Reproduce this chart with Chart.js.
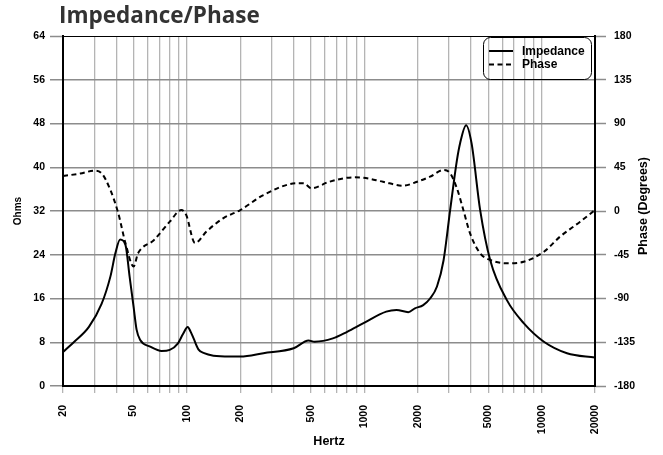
<!DOCTYPE html>
<html>
<head>
<meta charset="utf-8">
<title>Impedance/Phase</title>
<script src="https://cdn.jsdelivr.net/npm/chart.js@4/dist/chart.umd.min.js"></script>
<style>
  body { margin: 0; background: #fff; }
  #wrap { width: 663px; height: 455px; position: relative; }
</style>
</head>
<body>
<div id="wrap"><canvas id="chart"></canvas></div>
<script>
// impedance curve (Hz / ohms)
const IMP_FREQ = [20, 23, 28, 33, 37, 39.5, 42, 45, 47.5, 50, 52, 54.5, 62, 72, 80, 89, 95, 101, 105, 109, 116, 125, 141, 175, 200,
  270, 400, 485, 525, 665, 800, 990, 1330, 1520, 1770, 1930, 2150, 2350, 2570, 2800, 3050, 3330, 3470, 3750, 4026, 4500,
  5130, 6370, 7920, 10300, 13900, 20000];
const IMP_OHMS = [6.2, 8.0, 10.8, 15.0, 20.0, 24.3, 26.8, 25.8, 20.0, 14.5, 10.3, 8.4, 7.2, 6.4, 6.6, 7.8, 9.5, 10.8, 9.9, 8.7, 6.7, 6.0, 5.55, 5.4, 5.4,
  6.0, 6.9, 8.3, 8.1, 8.7, 9.9, 11.5, 13.6, 13.9, 13.5, 14.2, 14.8, 16.0, 18.2, 23.0, 32.2, 41.3, 44.4, 47.7, 44.4, 32.2,
  23.0, 15.7, 11.5, 8.1, 6.0, 5.2];

// phase curve (Hz / degrees)
const PHASE_FREQ = [20, 25, 30, 33, 37, 41, 45, 50, 53, 65, 80, 93, 99, 111, 129, 160, 200, 270, 420, 455, 503, 635, 866, 990,
  1275, 1660, 1985, 2350, 2800, 3050, 3330, 3620, 3950, 4500, 5130, 6370, 7920, 10300, 12700, 16500, 20000];
const PHASE_DEG = [36, 38.5, 41.4, 38.8, 21.6, -2.4, -33, -57, -43.5, -30, -11, 1, -4, -33, -21, -7.5, 1, 16.4, 28.5, 28.5, 23.3, 30.1, 34.6, 34.2,
  30.1, 26, 30.1, 35.3, 42.2, 38.8, 23.3, 1, -23, -43.5, -50.4, -53.8, -52.2, -41.9, -26.4, -11, 1];

// axis ticks
const X_GRID = [20, 30, 40, 50, 60, 70, 80, 90, 100, 200, 300, 400, 500, 600, 700, 800, 900, 1000,
  2000, 3000, 4000, 5000, 6000, 7000, 8000, 9000, 10000, 20000];
const X_LABELS = [20, 50, 100, 200, 500, 1000, 2000, 5000, 10000, 20000];

const TICK_FONT = { family: '"Liberation Sans", Arial, sans-serif', size: 10.5, weight: 'bold' };
const GRID_GRAY = '#8c8c8c';

const decor = {
  id: 'decor',
  afterDraw(chart) {
    const ctx = chart.ctx;
    ctx.save();
    // title
    ctx.fillStyle = '#333';
    ctx.font = '700 22.5px "Open Sans", sans-serif';
    ctx.textBaseline = 'alphabetic';
    ctx.textAlign = 'left';
    ctx.fillText('Impedance/Phase', 59, 23);

    // right axis title (reads bottom to top)
    ctx.fillStyle = '#000';
    ctx.font = 'bold 12.5px "Liberation Sans", Arial, sans-serif';
    ctx.translate(644, 206);
    ctx.rotate(-Math.PI / 2);
    ctx.textAlign = 'center';
    ctx.textBaseline = 'middle';
    ctx.fillText('Phase (Degrees)', 0, 0);
    ctx.restore();

    // legend box
    ctx.save();
    ctx.strokeStyle = '#000';
    ctx.lineWidth = 1;
    ctx.beginPath();
    ctx.roundRect(483.5, 37.5, 108, 42, 7);
    ctx.stroke();
    ctx.font = 'bold 12px "Liberation Sans", Arial, sans-serif';
    ctx.textBaseline = 'middle';
    ctx.fillStyle = '#000';
    chart.data.datasets.forEach((ds, i) => {
      const y = 51 + i * 13.5;
      ctx.lineWidth = 2;
      ctx.setLineDash(ds.borderDash || []);
      ctx.beginPath();
      ctx.moveTo(489, y);
      ctx.lineTo(513, y);
      ctx.stroke();
      ctx.setLineDash([]);
      ctx.fillText(ds.label, 522, y + 0.5);
    });
    ctx.restore();
  }
};

new Chart(document.getElementById('chart'), {
  type: 'line',
  data: {
    datasets: [
      {
        label: 'Impedance',
        data: IMP_FREQ.map((f, i) => ({ x: f, y: IMP_OHMS[i] })),
        yAxisID: 'y',
        borderColor: '#000',
        borderWidth: 2,
        pointRadius: 0,
        cubicInterpolationMode: 'monotone'
      },
      {
        label: 'Phase',
        data: PHASE_FREQ.map((f, i) => ({ x: f, y: PHASE_DEG[i] })),
        yAxisID: 'y1',
        borderColor: '#000',
        borderWidth: 2,
        borderDash: [5, 3.5],
        pointRadius: 0,
        cubicInterpolationMode: 'monotone'
      }
    ]
  },
  options: {
    responsive: true,
    maintainAspectRatio: false,
    animation: false,
    layout: { padding: { top: 36, left: 0, right: 0, bottom: 0 } },
    plugins: {
      legend: { display: false },
      title: { display: false },
      tooltip: { enabled: false }
    },
    scales: {
      x: {
        type: 'logarithmic',
        position: 'bottom',
        min: 20,
        max: 20000,
        afterBuildTicks: (scale) => { scale.ticks = X_GRID.map(v => ({ value: v })); },
        afterFit: (scale) => { scale.height = 69; },
        ticks: {
          autoSkip: false,
          minRotation: 90,
          maxRotation: 90,
          padding: 12,
          color: '#000',
          font: TICK_FONT,
          callback: (v) => X_LABELS.includes(v) ? String(v) : ''
        },
        grid: {
          color: '#b4b4b4',
          lineWidth: 1.3,
          tickLength: 7,
          tickColor: '#b4b4b4'
        },
        border: { color: '#000', width: 2 },
        title: {
          display: true,
          text: 'Hertz',
          color: '#000',
          font: { family: '"Liberation Sans", Arial, sans-serif', size: 12.5, weight: 'bold' },
          padding: { bottom: 6 }
        }
      },
      y: {
        position: 'left',
        min: 0,
        max: 64,
        afterFit: (scale) => { scale.width = 63; },
        ticks: { stepSize: 8, color: '#000', font: TICK_FONT, padding: 5 },
        grid: {
          color: (c) => c.tick && c.tick.value === 64 ? '#000' : GRID_GRAY,
          lineWidth: (c) => c.tick && c.tick.value === 64 ? 1 : 1.5,
          tickLength: 13,
          tickColor: GRID_GRAY,
          tickWidth: 1.5
        },
        border: { color: '#000', width: 2 },
        title: {
          display: true,
          text: 'Ohms',
          color: '#000',
          font: { family: '"Liberation Sans", Arial, sans-serif', size: 10, weight: 'bold' },
          padding: { top: 12 }
        }
      },
      y1: {
        position: 'right',
        min: -180,
        max: 180,
        afterFit: (scale) => { scale.width = 68; },
        ticks: { stepSize: 45, color: '#000', font: TICK_FONT, padding: 8 },
        grid: {
          drawOnChartArea: false,
          tickLength: 11,
          tickColor: GRID_GRAY,
          tickWidth: 1.5
        },
        border: { color: '#000', width: 2 }
      }
    }
  },
  plugins: [decor]
});
</script>
</body>
</html>
